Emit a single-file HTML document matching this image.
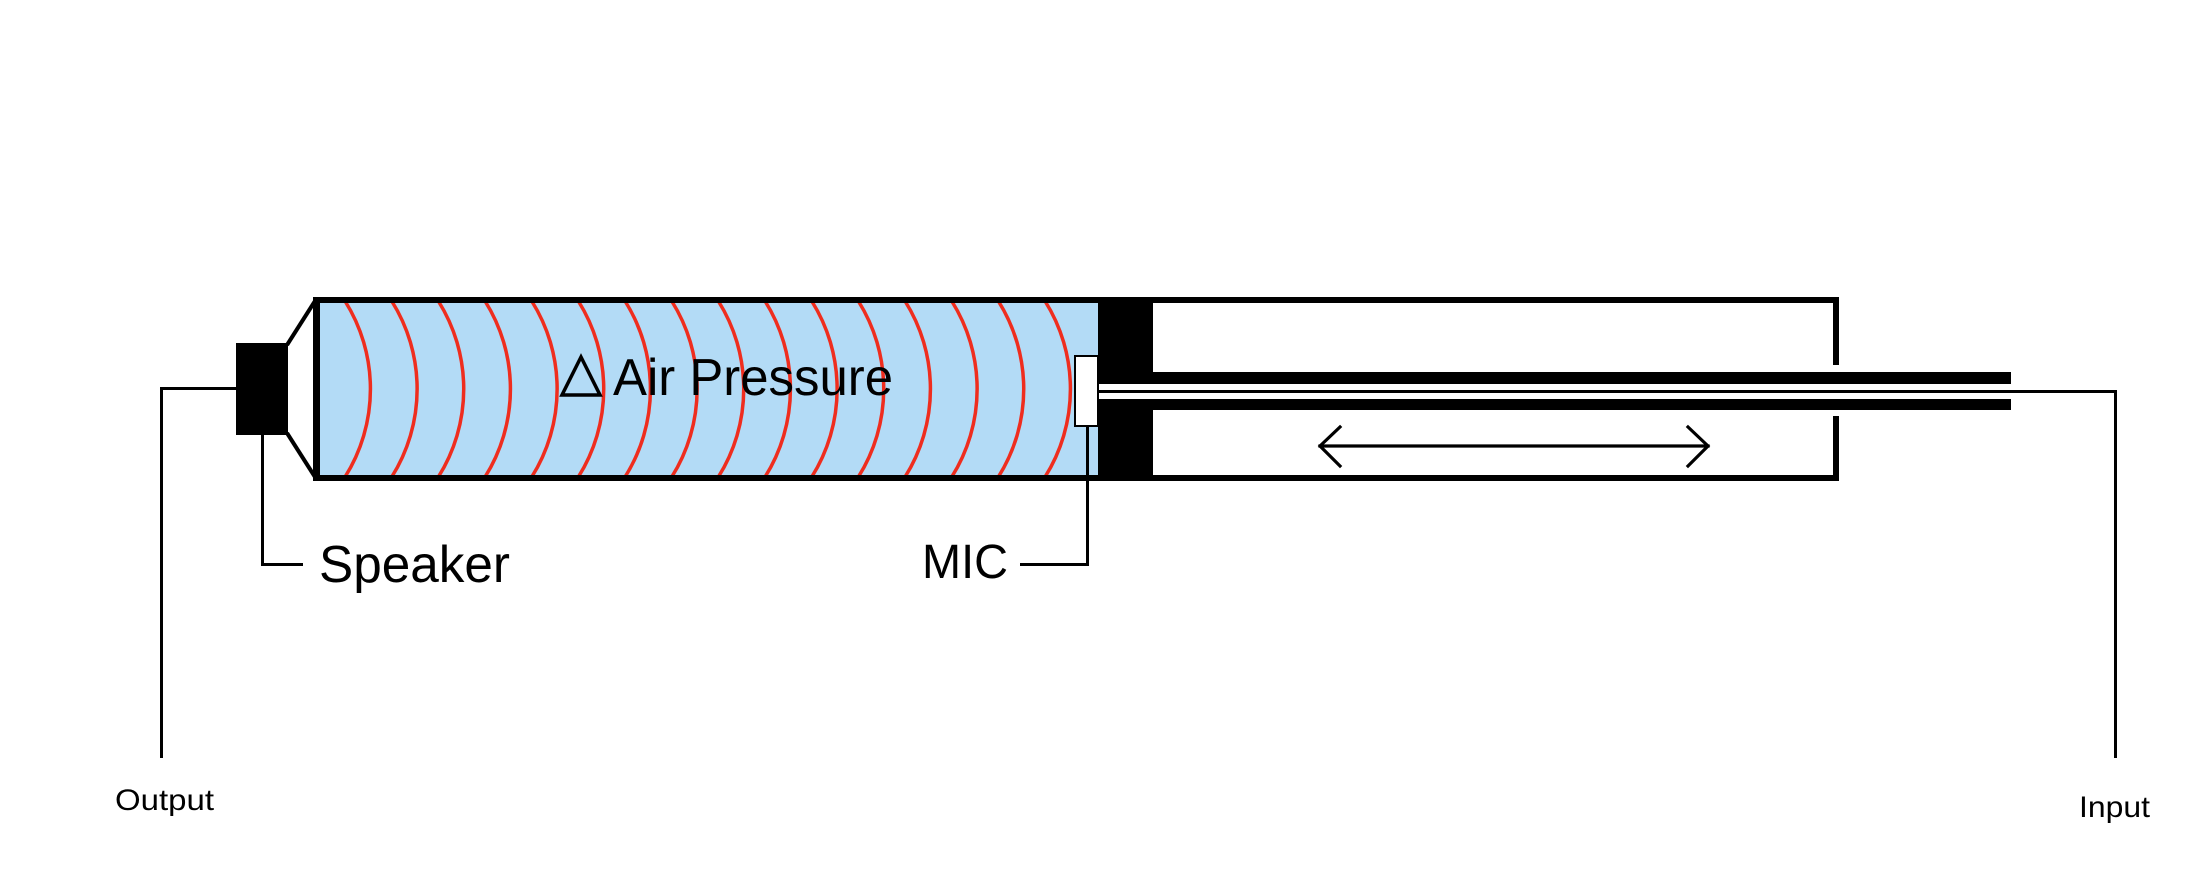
<!DOCTYPE html>
<html>
<head>
<meta charset="utf-8">
<style>
  html,body{margin:0;padding:0;background:#ffffff;}
  svg{display:block;}
  text{font-family:"Liberation Sans",sans-serif;fill:#000;}
</style>
</head>
<body>
<svg width="2200" height="889" viewBox="0 0 2200 889" xmlns="http://www.w3.org/2000/svg">
  <rect x="0" y="0" width="2200" height="889" fill="#ffffff"/>

  <!-- blue air chamber -->
  <rect x="316" y="300" width="782" height="178" fill="#b3dbf6"/>

  <!-- red pressure waves -->
  <g fill="none" stroke="#ef2d1e" stroke-width="3.5">
    <path d="M345 301 A165 165 0 0 1 345 477"/>
    <path d="M391.7 301 A165 165 0 0 1 391.7 477"/>
    <path d="M438.3 301 A165 165 0 0 1 438.3 477"/>
    <path d="M485 301 A165 165 0 0 1 485 477"/>
    <path d="M531.7 301 A165 165 0 0 1 531.7 477"/>
    <path d="M578.3 301 A165 165 0 0 1 578.3 477"/>
    <path d="M625 301 A165 165 0 0 1 625 477"/>
    <path d="M671.7 301 A165 165 0 0 1 671.7 477"/>
    <path d="M718.3 301 A165 165 0 0 1 718.3 477"/>
    <path d="M765 301 A165 165 0 0 1 765 477"/>
    <path d="M811.7 301 A165 165 0 0 1 811.7 477"/>
    <path d="M858.3 301 A165 165 0 0 1 858.3 477"/>
    <path d="M905 301 A165 165 0 0 1 905 477"/>
    <path d="M951.7 301 A165 165 0 0 1 951.7 477"/>
    <path d="M998.3 301 A165 165 0 0 1 998.3 477"/>
    <path d="M1045 301 A165 165 0 0 1 1045 477"/>
  </g>

  <!-- tube borders -->
  <rect x="313" y="297" width="1526" height="6" fill="#000"/>
  <rect x="313" y="475" width="1526" height="6" fill="#000"/>
  <rect x="313" y="297" width="7" height="184" fill="#000"/>
  <!-- right end of cylinder with gap -->
  <rect x="1833" y="297" width="6" height="68" fill="#000"/>
  <rect x="1833" y="416" width="6" height="65" fill="#000"/>

  <!-- plunger plug -->
  <rect x="1098" y="297" width="55" height="184" fill="#000"/>

  <!-- rod -->
  <rect x="1098" y="372" width="913" height="38" fill="#000"/>
  <rect x="1098" y="384" width="913" height="6" fill="#fff"/>
  <rect x="1098" y="393" width="913" height="6" fill="#fff"/>
  <rect x="1098" y="390" width="1019" height="3" fill="#000"/>

  <!-- input wire -->
  <rect x="2114" y="390" width="3" height="368" fill="#000"/>

  <!-- mic -->
  <rect x="1075" y="356" width="23" height="70" fill="#fff" stroke="#000" stroke-width="2"/>
  <!-- mic wire -->
  <rect x="1086" y="426" width="3" height="140" fill="#000"/>
  <rect x="1020" y="563" width="69" height="3" fill="#000"/>

  <!-- speaker -->
  <rect x="236" y="343" width="52" height="92" fill="#000"/>
  <line x1="287" y1="345" x2="315" y2="301" stroke="#000" stroke-width="4"/>
  <line x1="287" y1="433" x2="315" y2="477" stroke="#000" stroke-width="4"/>

  <!-- speaker label wire -->
  <rect x="261" y="435" width="3" height="131" fill="#000"/>
  <rect x="261" y="563" width="42" height="3" fill="#000"/>

  <!-- output wire -->
  <rect x="160" y="387" width="76" height="3" fill="#000"/>
  <rect x="160" y="387" width="3" height="371" fill="#000"/>

  <!-- double arrow -->
  <g fill="none" stroke="#000" stroke-width="3.2" stroke-linecap="square">
    <line x1="1320" y1="446" x2="1708" y2="446"/>
    <polyline points="1340,427 1320,446 1340,466"/>
    <polyline points="1688,427 1708,446 1688,466"/>
  </g>

  <!-- delta triangle -->
  <polygon points="581,357 600,395 562,395" fill="none" stroke="#000" stroke-width="3.5" stroke-linejoin="miter"/>

  <!-- labels -->
  <text x="613" y="395" font-size="52" textLength="280" lengthAdjust="spacingAndGlyphs">Air Pressure</text>
  <text x="319" y="582" font-size="52" textLength="191" lengthAdjust="spacingAndGlyphs">Speaker</text>
  <text x="922" y="578" font-size="48" textLength="86" lengthAdjust="spacingAndGlyphs">MIC</text>
  <text x="115" y="810" font-size="30" textLength="99" lengthAdjust="spacingAndGlyphs">Output</text>
  <text x="2079" y="817" font-size="30" textLength="71" lengthAdjust="spacingAndGlyphs">Input</text>
</svg>
</body>
</html>
